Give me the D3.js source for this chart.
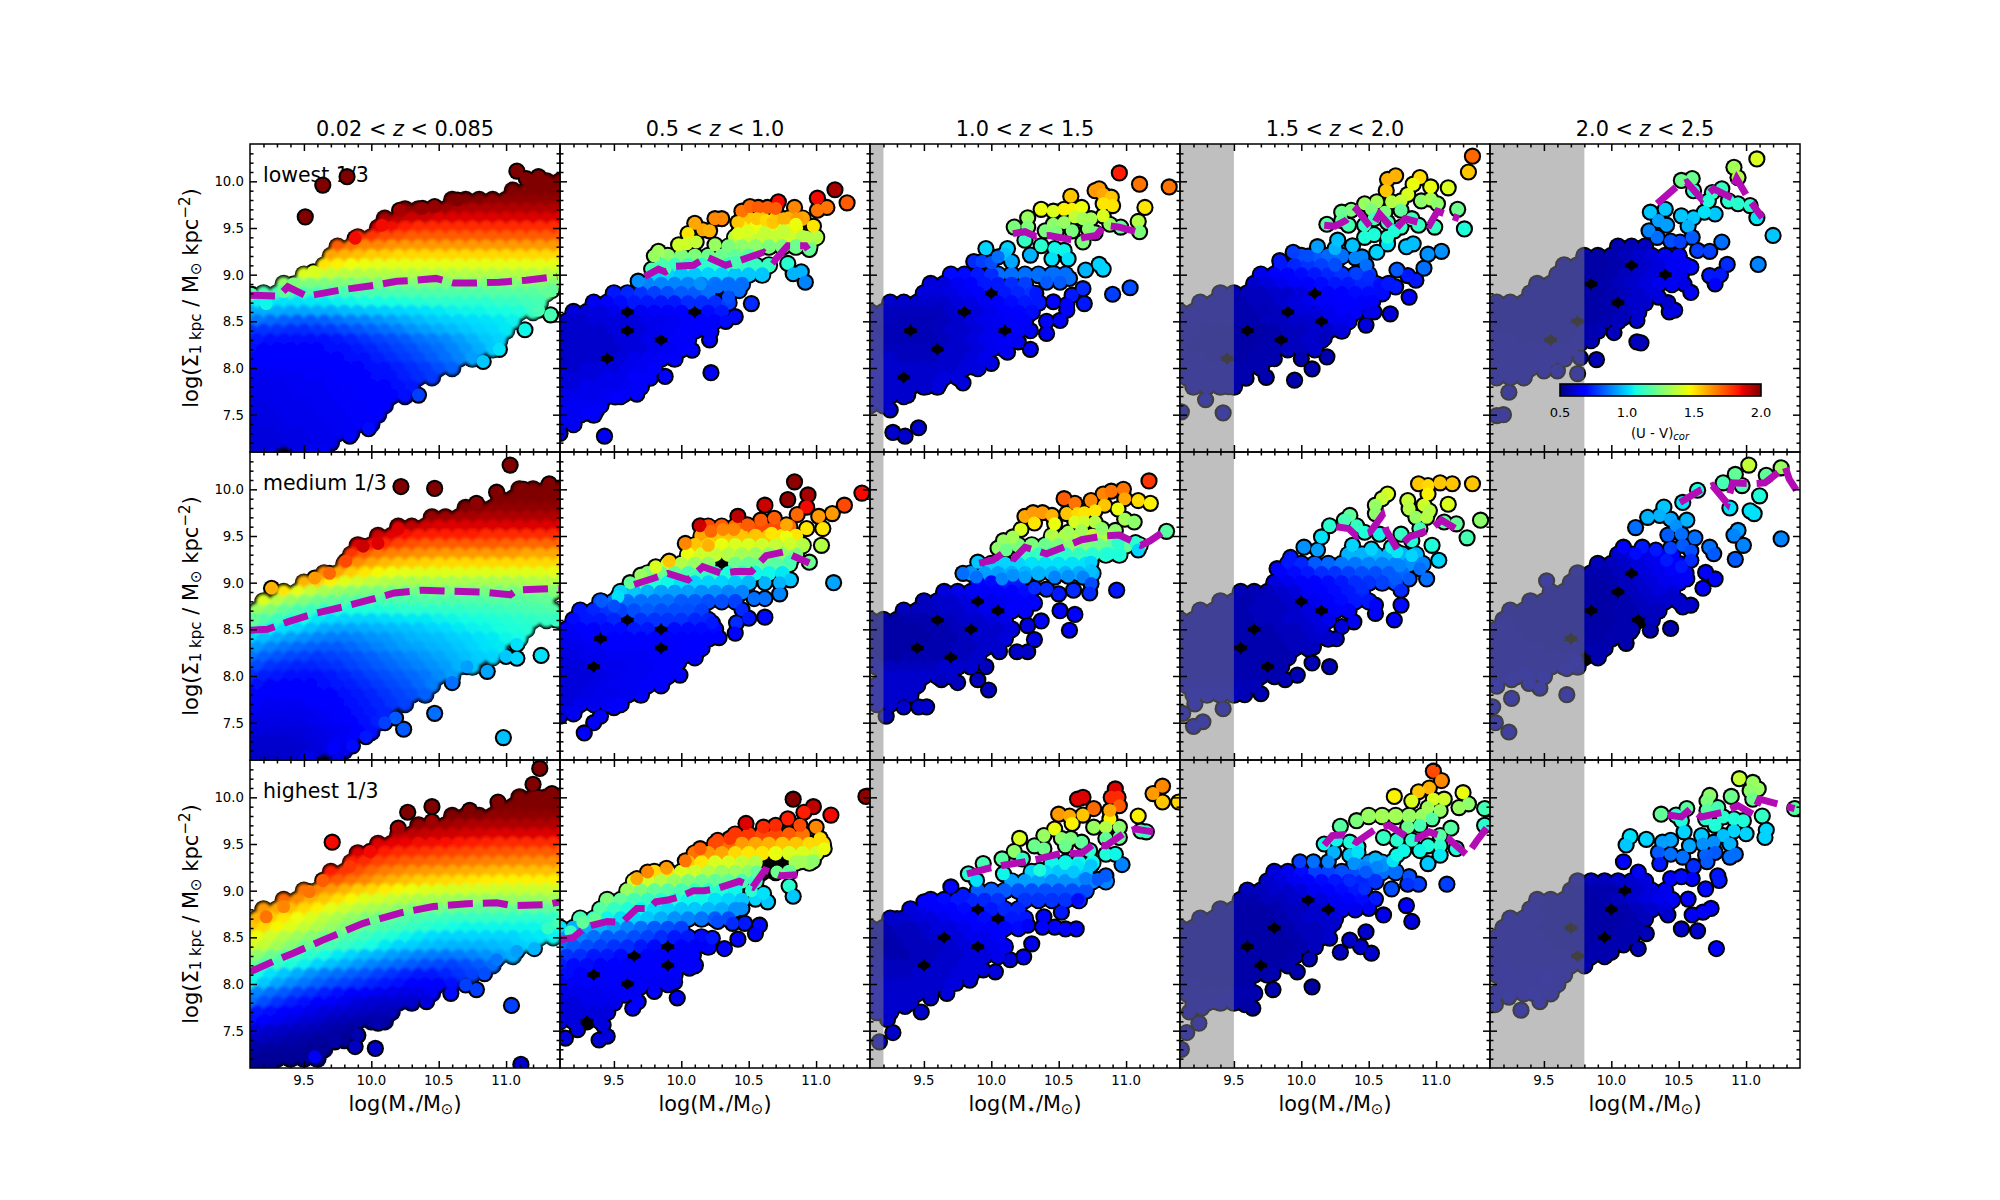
<!DOCTYPE html>
<html>
<head>
<meta charset="utf-8">
<script src="https://d3js.org/d3.v7.min.js"></script>
<style>
body { margin: 0; background: #fff; }
text { font-family: "DejaVu Sans", sans-serif; fill: #000; }
</style>
</head>
<body>
<div id="grafica"></div>
<script>
// Axis values
const xRange = [9.1, 11.4]
const yRange = [7.1, 10.4]
const xMajor = [9.5, 10, 10.5, 11]
const xMinor = [9.2, 9.3, 9.4, 9.6, 9.7, 9.8, 9.9, 10.1, 10.2, 10.3, 10.4, 10.6, 10.7, 10.8, 10.9, 11.1, 11.2, 11.3]
const yMajor = [7.5, 8, 8.5, 9, 9.5, 10]
const yMinor = [7.2, 7.3, 7.4, 7.6, 7.7, 7.8, 7.9, 8.1, 8.2, 8.3, 8.4, 8.6, 8.7, 8.8, 8.9, 9.1, 9.2, 9.3, 9.4, 9.6, 9.7, 9.8, 9.9, 10.1, 10.2, 10.3]
const zBins = [["0.02", "0.085"], ["0.5", "1.0"], ["1.0", "1.5"], ["1.5", "2.0"], ["2.0", "2.5"]]
const massBins = ["lowest 1/3", "medium 1/3", "highest 1/3"]
const massLimit = [null, null, 9.2, 9.5, 9.8]   // grey band ends here, per redshift bin
const barTicks = [0.5, 1, 1.5, 2]

// rowsRC: dense part of a panel, [y, first x, (U-V) every 0.1 in x ...], 0 = only black edges show there
// dotsRC: single galaxies, [x, y, (U-V)]
// trendRC: the magenta dashed line, [x, y]
const rows00 = [
[10.0,11.2,2,2,2],
[9.9,11.05,2,2,2,2],
[9.8,10.6,2,2,2,1.98,1.98,1.98,1.98,1.98,1.98],
[9.7,10.25,1.98,1.98,1.96,1.96,1.94,1.94,1.94,1.94,1.94,1.94,1.94,1.94,1.94],
[9.6,10.1,1.95,1.92,1.9,1.9,1.88,1.88,1.88,1.88,1.88,1.88,1.88,1.88,1.88,1.88],
[9.5,10.05,1.88,1.85,1.82,1.8,1.8,1.8,1.8,1.8,1.8,1.8,1.8,1.8,1.8,1.8,1.8],
[9.4,9.9,1.8,1.78,1.75,1.74,1.72,1.72,1.72,1.72,1.72,1.72,1.72,1.72,1.72,1.72,1.72,1.72],
[9.3,9.75,1.72,1.68,1.65,1.65,1.63,1.62,1.62,1.62,1.62,1.62,1.62,1.62,1.62,1.62,1.62,1.62,1.62,1.62],
[9.2,9.7,1.6,1.58,1.56,1.54,1.54,1.52,1.52,1.52,1.52,1.52,1.52,1.52,1.52,1.52,1.52,1.52,1.52,1.52],
[9.1,9.65,1.5,1.48,1.46,1.45,1.44,1.44,1.44,1.44,1.44,1.44,1.44,1.44,1.44,1.44,1.44,1.44,1.44,1.44,1.44],
[9.0,9.5,1.42,1.4,1.38,1.36,1.35,1.35,1.35,1.35,1.35,1.35,1.35,1.35,1.35,1.35,1.35,1.35,1.35,1.35,1.35,1.35],
[8.9,9.35,1.28,1.26,1.25,1.25,1.25,1.25,1.25,1.25,1.25,1.25,1.25,1.25,1.25,1.25,1.25,1.25,1.25,1.26,1.26,1.26,1.27,1.27],
[8.8,9.2,1.16,1.15,1.15,1.15,1.15,1.15,1.15,1.15,1.16,1.16,1.16,1.17,1.17,1.17,1.17,1.17,1.17,1.18,1.18,1.18,1.18,1.2],
[8.7,9.05,1.04,1.04,1.03,1.02,1.02,1.03,1.03,1.04,1.05,1.06,1.06,1.07,1.08,1.09,1.1,1.1,1.1,1.1,1.1,1.12,1.12,1.14,1.15],
[8.6,9.1,.94,.94,.94,.93,.93,.94,.94,.96,.97,.98,.99,1,1.01,1.02,1.03,1.04,1.05,1.05,1.06,1.07,1.08,1.12],
[8.5,9.05,.86,.86,.84,.83,.82,.82,.83,.85,.87,.88,.9,.92,.94,.96,.98,.99,1,1.01,1.02,1.03,1.04],
[8.4,9.1,.76,.76,.76,.75,.75,.76,.77,.79,.81,.83,.85,.87,.9,.92,.94,.96,.98,1,1.01,1.03],
[8.3,9.05,.72,.72,.71,.7,.7,.7,.71,.72,.74,.76,.78,.8,.82,.85,.87,.89,.92,.95,.98,1],
[8.2,9.1,.7,.69,.69,.68,.68,.69,.7,.71,.72,.74,.76,.78,.8,.83,.85,.88,.91,.94,.98],
[8.1,9.05,.68,.68,.68,.67,.67,.67,.68,.69,.7,.71,.73,.75,.77,.79,.82,.85,.88,.92],
[8.0,9.1,.67,.66,.66,.66,.66,.66,.67,.68,.69,.7,.71,.73,.75,.77,.8,.83],
[7.9,9.05,.65,.65,.65,.65,.65,.66,.66,.67,.68,.69,.7,.71,.73,.75,.77],
[7.8,9.1,.64,.64,.64,.65,.65,.65,.66,.66,.67,.68,.69,.7,.72],
[7.7,9.05,.64,.64,.64,.64,.65,.65,.65,.66,.66,.67,.68,.69,.7],
[7.6,9.1,.63,.63,.64,.64,.64,.65,.65,.66,.66,.67,.68],
[7.5,9.05,.63,.63,.63,.64,.64,.64,.65,.65,.66,.66,.67],
[7.4,9.1,.62,.63,.63,.64,.64,.64,.65,.65,.66,.66],
[7.3,9.05,.62,.62,.62,.63,.63,.64,.64,.65,.65],
[7.2,9.1,.62,.62,.62,.63,.63,.64,.64],
[7.1,9.05,.61,.61,.62,0,.63,.64,.65]
]
const dots00 = [[9.51,9.62,2],[9.64,9.96,2],[9.82,10.05,2],[11.08,10.11,2],[11.24,10.05,2],[11.15,10.03,2],[9.11,8.79,1.18],[9.22,8.69,1.05],[9.35,8.82,1.2],[9.42,8.9,1.25],[10.95,8.2,1.02],[10.83,8.07,.98],[11.14,8.41,1.05],[11.33,8.57,1.15],[11.24,8.62,1.15],[11.34,8.83,1.2],[9.98,7.35,.7],[10.35,7.71,.78],[9.88,9.39,1.85],[10.08,9.53,1.85],[10.21,9.69,1.95],[10.38,9.71,1.97],[10.47,9.73,1.97],[10.64,9.8,2],[9.57,9.03,1.42],[9.84,7.27,.66],[9.57,7.13,.65]]
const trend00 = [[9.1,8.78],[9.31,8.77],[9.38,8.87],[9.52,8.77],[9.79,8.84],[10.04,8.89],[10.19,8.93],[10.33,8.94],[10.48,8.96],[10.61,8.91],[10.77,8.91],[10.95,8.92],[11.15,8.94],[11.38,8.98]]

const rows10 = [
[10.0,11.1,2,2,2,2],
[9.9,10.95,2,2,2,2,2,2],
[9.8,10.7,2,2,1.98,1.98,1.98,1.98,1.98,1.98],
[9.7,10.45,1.97,1.96,1.95,1.95,1.94,1.94,1.94,1.94,1.94,1.94],
[9.6,10.2,1.95,1.92,1.9,1.88,1.88,1.88,1.88,1.88,1.88,1.88,1.88,1.88,1.88],
[9.5,10.05,1.9,1.87,1.84,1.82,1.82,1.82,1.82,1.82,1.8,1.8,1.8,1.8,1.8,1.8,1.8],
[9.4,9.9,1.88,1.84,1.8,1.76,1.74,1.72,1.72,1.72,1.72,1.72,1.72,1.71,1.7,1.7,1.7,1.7],
[9.3,9.85,1.78,1.72,1.68,1.66,1.65,1.64,1.63,1.62,1.62,1.62,1.62,1.62,1.62,1.6,1.6,1.6,1.6],
[9.2,9.8,1.7,1.64,1.6,1.57,1.55,1.54,1.53,1.52,1.52,1.52,1.52,1.52,1.52,1.52,1.52,1.52,1.52],
[9.1,9.65,1.65,1.6,1.54,1.5,1.47,1.45,1.44,1.43,1.43,1.43,1.43,1.43,1.43,1.43,1.43,1.43,1.43,1.44,1.44],
[9.0,9.5,1.58,1.54,1.48,1.43,1.4,1.37,1.35,1.33,1.33,1.33,1.33,1.33,1.33,1.33,1.33,1.33,1.33,1.34,1.35,1.35],
[8.9,9.35,1.5,1.44,1.38,1.33,1.3,1.27,1.25,1.24,1.24,1.23,1.23,1.24,1.24,1.24,1.24,1.24,1.24,1.24,1.25,1.25,1.26,1.26],
[8.8,9.2,1.42,1.36,1.3,1.26,1.22,1.2,1.18,1.17,1.16,1.16,1.16,1.16,1.17,1.17,1.17,1.17,1.17,1.18,1.18,1.18,1.19,1.2],
[8.7,9.05,1.3,1.3,1.26,1.2,1.16,1.13,1.1,1.09,1.08,1.08,1.08,1.09,1.1,1.1,1.1,1.11,1.11,1.12,1.12,1.13,1.14,1.15,1.16,1.17],
[8.6,9.1,1.2,1.17,1.13,1.09,1.06,1.03,1.01,1,1,1,1.01,1.02,1.03,1.03,1.04,1.05,1.06,1.07,1.08,1.09,1.1,1.11,1.12,1.14],
[8.5,9.05,1.08,1.08,1.05,1.02,1,.97,.94,.93,.93,.94,.95,.96,.97,.98,1,1.01,1.03,1.04,1.05,1.07,1.08,1.09],
[8.4,9.1,1,.97,.94,.92,.9,.88,.87,.87,.88,.9,.91,.93,.95,.96,.97,.99,1,1.02,1.03,1.05,1.06],
[8.3,9.05,.91,.91,.88,.86,.84,.83,.82,.82,.84,.86,.88,.9,.92,.93,.95,.96,.98,1,1.02,1.03],
[8.2,9.1,.86,.83,.81,.79,.78,.77,.78,.79,.81,.83,.85,.87,.89,.91,.93,.95,.97,.99,1],
[8.1,9.05,.79,.79,.76,.75,.74,.74,.75,.76,.78,.8,.82,.84,.86,.88,.9,.92,.95,.98],
[8.0,9.1,.75,.73,.72,.71,.71,.71,.72,.74,.76,.78,.8,.82,.84,.86,.89,.92],
[7.9,9.05,.7,.7,.69,.68,.69,.69,.7,.72,.73,.75,.77,.79,.81,.84,.87],
[7.8,9.1,.68,.67,.67,.67,.67,.68,.69,.7,.72,.74,.76,.78,.8,.83],
[7.7,9.05,.66,.66,.65,.65,.65,.66,.67,.68,.7,.72,.74,.76,.78],
[7.6,9.1,.65,.64,.64,.64,.64,.65,.66,.68,.7,.72,.74],
[7.5,9.05,.63,.63,.63,.63,.63,.64,.65,.66,.68,.7,.73],
[7.4,9.1,.62,.62,.62,.62,.62,.63,.64,.65,.67,.7],
[7.3,9.05,.6,.6,.6,.6,.61,.62,.63,.65,.67],
[7.2,9.1,.6,.6,.6,.6,.6,.62,.63,.64],
[7.1,9.05,.59,.59,.59,.6,.6,.62,0,.63]
]
const dots10 = [[10.22,10.03,2],[10.47,10.01,2],[11.03,10.26,2],[11.32,10.06,2],[11.13,10.0,2],[10.93,9.97,2],[10.78,9.85,1.98],[10.2,9.58,1.88],[9.26,8.94,1.58],[9.94,9.39,1.9],[10.05,9.42,1.88],[9.81,9.23,1.75],[9.69,9.1,1.7],[9.58,9.05,1.62],[9.13,8.6,1.2],[10.47,7.6,.85],[10.98,7.34,.97],[11.26,8.22,1.02],[10.24,7.43,.82],[10.18,7.55,.82],[10.1,7.5,.78],[9.86,7.25,.7],[9.72,7.23,.68],[9.96,7.35,.72],[10.6,7.93,.85],[10.86,8.05,.93],[10.71,8.1,.92],[11.0,8.21,.98],[11.08,8.19,1],[11.08,8.34,1.02],[11.37,8.6,1.12],[9.52,7.14,.64]]
const trend10 = [[9.1,8.49],[9.23,8.5],[9.38,8.58],[9.58,8.67],[9.79,8.74],[10,8.82],[10.17,8.89],[10.38,8.92],[10.57,8.91],[10.81,8.9],[11.03,8.87],[11.08,8.92],[11.39,8.94]]

const rows20 = [
[10.0,11.1,2,2,2,2,2],
[9.9,10.95,2,2,2,2,2,2],
[9.8,10.6,2,2,2,1.98,1.98,1.98,1.98,1.98,1.98],
[9.7,10.35,1.98,1.97,1.96,1.95,1.94,1.94,1.94,1.94,1.94,1.94,1.94,1.94],
[9.6,10.2,1.92,1.92,1.91,1.9,1.9,1.89,1.89,1.88,1.88,1.88,1.88,1.88,1.88,1.88],
[9.5,10.05,1.88,1.87,1.86,1.85,1.85,1.84,1.83,1.82,1.81,1.8,1.8,1.8,1.8,1.8,1.8],
[9.4,9.9,1.88,1.86,1.82,1.8,1.79,1.78,1.77,1.76,1.75,1.74,1.73,1.73,1.72,1.72,1.72,1.72],
[9.3,9.85,1.82,1.8,1.76,1.74,1.72,1.71,1.7,1.69,1.68,1.67,1.66,1.65,1.65,1.64,1.64,1.64,1.64],
[9.2,9.7,1.82,1.78,1.74,1.7,1.67,1.65,1.63,1.62,1.61,1.6,1.59,1.58,1.57,1.56,1.56,1.56,1.56,1.56],
[9.1,9.65,1.76,1.72,1.68,1.65,1.61,1.58,1.56,1.54,1.53,1.52,1.51,1.5,1.49,1.48,1.48,1.48,1.48,1.48,1.48],
[9.0,9.5,1.68,1.65,1.62,1.58,1.54,1.52,1.49,1.47,1.45,1.43,1.42,1.41,1.41,1.4,1.4,1.39,1.39,1.39,1.39,1.39],
[8.9,9.35,1.7,1.64,1.58,1.55,1.51,1.47,1.43,1.41,1.38,1.36,1.34,1.33,1.32,1.31,1.3,1.3,1.3,1.3,1.3,1.3,1.31,1.31,1.32],
[8.8,9.2,1.62,1.6,1.56,1.52,1.48,1.44,1.4,1.36,1.33,1.31,1.28,1.26,1.25,1.24,1.22,1.21,1.2,1.2,1.2,1.2,1.2,1.2,1.2],
[8.7,9.05,1.58,1.58,1.54,1.5,1.46,1.42,1.37,1.33,1.29,1.26,1.23,1.2,1.18,1.16,1.14,1.13,1.12,1.12,1.12,1.12,1.11,1.1,1.1,1.11],
[8.6,9.1,1.55,1.52,1.47,1.43,1.38,1.34,1.3,1.26,1.22,1.19,1.16,1.14,1.12,1.1,1.08,1.06,1.05,1.05,1.05,1.05,1.05,1.05,1.05,1.06],
[8.5,9.05,1.45,1.45,1.4,1.35,1.31,1.27,1.23,1.19,1.16,1.13,1.1,1.08,1.05,1.03,1.01,1,1,1,1,1,1,1.02,1.03,1.04],
[8.4,9.1,1.42,1.38,1.32,1.27,1.22,1.18,1.15,1.12,1.09,1.06,1.03,1,.99,.97,.96,.95,.95,.95,.96,.97,.99,1],
[8.3,9.05,1.28,1.28,1.22,1.18,1.13,1.1,1.06,1.03,1,.97,.95,.92,.9,.88,.87,.86,.87,.88,.9,.92,.94],
[8.2,9.1,1.22,1.16,1.12,1.08,1.04,1,.97,.94,.91,.88,.86,.84,.82,.8,.79,.78,.8,.82,.84],
[8.1,9.05,1.06,1.06,1.02,.98,.94,.9,.87,.85,.83,.81,.78,.76,.74,.72,.72,.74,.76,.78],
[8.0,9.1,1.05,.98,.93,.89,.86,.83,.8,.78,.76,.74,.72,.7,.68,.67,.68,.7],
[7.9,9.05,.88,.88,.85,.82,.78,.76,.73,.71,.69,.67,.65,.64,.63,.63,.65],
[7.8,9.1,.85,.8,.76,.73,.7,.68,.66,.64,.62,.61,.6,.6,.6],
[7.7,9.05,.72,.72,.7,.68,.66,.64,.62,.61,.6,.59,.58,.58],
[7.6,9.1,.7,.67,.65,.63,.61,.6,.58,.57,.56,.55,.55],
[7.5,9.05,.62,.62,.6,.59,.58,.57,.56,.55,.54],
[7.4,9.1,.58,.58,.57,.56,.55,.54,.54,.53],
[7.3,9.05,.55,.55,.54,.54,.54,.53,.53],
[7.2,9.1,.53,.53,.53,.53,.53,.53],
[7.1,9.05,.52,.52,.52]
]
const dots20 = [[9.22,8.72,1.68],[9.71,9.52,1.85],[10.27,9.84,2],[10.45,9.9,2],[11.2,10.14,2],[11.25,10.31,2],[11.34,10.04,2],[11.24,10.0,2],[10.94,9.95,2],[10.73,9.86,2],[10.2,9.67,1.95],[10.45,9.74,1.96],[9.99,9.42,1.85],[9.84,9.26,1.78],[9.64,9.11,1.72],[9.54,8.99,1.68],[9.35,8.83,1.65],[9.58,7.22,.65],[9.73,7.38,.55],[9.88,7.33,.58],[10.03,7.31,.6],[9.9,7.45,.56],[10.05,7.58,.56],[10.41,7.81,.62],[10.59,7.9,.7],[10.7,7.99,.78],[10.78,7.94,.78],[10.84,8.11,.8],[10.93,8.26,.86],[11.08,8.35,.92],[11.21,8.38,.95],[11.31,8.6,1.12],[11.39,8.65,1.15],[11.04,7.77,.78],[11.11,7.14,.6]]
const trend20 = [[9.1,8.13],[9.3,8.26],[9.42,8.33],[9.64,8.47],[9.94,8.65],[10.21,8.76],[10.46,8.83],[10.71,8.86],[10.93,8.87],[11.05,8.84],[11.3,8.85],[11.4,8.88]]

const rows01 = [
[9.6,10.5,1.55,1.55,1.55,1.58,1.6],
[9.5,10.45,1.48,1.45,1.42,1.45,1.48],
[9.4,10.4,1.35,1.38,1.38,1.38,1.4,1.35,1.35],
[9.3,10.35,1.25,1.28,1.28,1.25,1.25,1.22,1.28],
[9.2,9.9,1.28,1.25,1.25,1.22,1.22,1.2,1.18],
[9.1,9.85,1.15,1.12,1.12,1.1,1.1,1.1,1.12,1.12,1.12],
[9.0,9.8,1,1,.98,.98,1,1,.98,.98,.98],
[8.9,9.75,.88,.88,.88,.88,.86,.86,.85,.85],
[8.8,9.5,.72,.74,.76,.78,.8,.82,.82,.85],
[8.7,9.35,.65,.68,.7,.72,.72,.72,.72,.75,.75,.75,.78],
[8.6,9.2,.62,.62,.62,.64,0,.65,.66,.66,.68,0,.7,.72],
[8.5,9.15,.6,.6,.62,.62,.62,.62,.64,.64,.65,.66,.66,.68],
[8.4,9.1,.6,.6,.6,.6,.62,0,.62,.64,.65,.66,.66,.67],
[8.3,9.15,.6,.6,.6,.6,.62,.62,.64,0,.66,.66],
[8.2,9.1,.6,.6,.6,.6,.6,.62,.62,.64,.65,.66],
[8.1,9.15,.6,.6,.6,0,.62,.64,.65,.66,.66],
[8.0,9.1,.6,.6,.62,.62,.62,.64,.65,.66],
[7.9,9.15,.62,.62,.62,.64,.64,.66,.66],
[7.8,9.1,.62,.62,.64,.64,.64,.65,.66],
[7.7,9.15,.64,.64,.64,.65,.65],
[7.6,9.1,.64,.65,.65,.65],
[7.5,9.15,.65,.65,.65],
[7.4,9.1,.65,.65]
]
const dots01 = [[11.14,9.91,1.95],[11.01,9.82,1.85],[11.23,9.77,1.72],[11.01,9.69,1.68],[11.08,9.72,1.68],[10.72,9.78,1.85],[10.84,9.72,1.65],[10.98,9.52,1.5],[10.93,9.4,1.35],[10.95,9.27,1.2],[10.45,9.68,1.68],[10.51,9.73,1.7],[10.57,9.72,1.72],[10.64,9.72,1.72],[10.7,9.71,1.72],[10.42,9.56,1.55],[10.56,9.6,1.55],[10.63,9.58,1.52],[10.68,9.56,1.55],[10.76,9.6,1.58],[10.86,9.6,1.62],[10.42,9.44,1.42],[10.49,9.46,1.42],[10.62,9.45,1.38],[10.76,9.47,1.38],[10.85,9.54,1.45],[10.1,9.55,1.6],[10.16,9.48,1.6],[10.25,9.6,1.65],[10.3,9.6,1.65],[10.21,9.47,1.58],[10.05,9.44,1.5],[9.98,9.32,1.4],[10.04,9.33,1.4],[10.11,9.35,1.38],[9.83,9.25,1.32],[9.8,9.2,1.3],[10.25,9.32,1.3],[9.88,9.06,1.15],[9.78,9.06,1.15],[10.4,9.13,1.15],[10.79,9.12,1.1],[10.83,9.01,.95],[10.89,9.03,.95],[10.92,8.92,.88],[9.68,8.93,.9],[10.14,8.9,.9],[10.27,8.87,.85],[10.35,8.87,.85],[10.43,8.83,.85],[10.52,8.69,.75],[10.35,8.76,.8],[10.22,7.95,.65],[9.43,7.27,.65],[10.21,8.3,.68],[10.22,8.39,.68],[10.08,8.19,.68],[10.4,8.55,.7],[10.33,8.5,.7],[9.88,7.91,.66],[9.77,7.89,.66],[9.67,7.72,.66],[9.58,7.72,.66],[9.51,7.69,.66],[9.37,7.54,.66],[9.3,7.52,.66],[9.1,7.3,.62]]
const trend01 = [[9.73,8.98],[9.83,9.06],[9.88,9.03],[9.96,9.09],[10.09,9.1],[10.19,9.19],[10.33,9.1],[10.43,9.15],[10.61,9.24],[10.69,9.15],[10.79,9.31],[10.92,9.31],[10.94,9.27]]

const rows02 = [
[9.0,10.05,.85,.85,.85,.85,.85,.85],
[9.0,9.7,.7,.7,.72,.75],
[8.9,9.55,.62,.62,.65,.68,.72,.72,.75,.78],
[8.8,9.5,.62,.62,.63,.65,.68,0,.72,.74,.76],
[8.7,9.25,.6,.6,.6,.6,.6,.62,.63,.65,.67,.7,.72,.72],
[8.6,9.1,.58,.58,.58,.58,.58,.58,.6,0,.62,.64,.66,.68,.7],
[8.5,9.15,.58,.58,.57,.57,.57,.58,.6,.62,.64,.65,.66,.68],
[8.4,9.1,.58,.57,.57,0,.57,.58,.6,.6,.62,.64,0,.68],
[8.3,9.15,.58,.57,.57,.57,.57,.58,.6,.62,.64,.65,.66],
[8.2,9.1,.58,.58,.58,.58,.58,0,.6,.6,.62,.64,.65],
[8.1,9.15,.6,.6,.58,.58,.58,.6,.6,.62,.64],
[8.0,9.1,.6,.6,.6,.6,.6,.6,.6,.62,.63],
[7.9,9.15,.6,.6,0,.6,.6,.62,.62],
[7.8,9.1,.6,.6,.6,.6,.6,.62],
[7.7,9.15,.6,.6,.6],
[7.6,9.1,.6,.6]
]
const dots02 = [[10.95,10.09,1.82],[11.1,9.97,1.68],[11.32,9.94,1.68],[11.14,9.72,1.5],[11.09,9.57,1.35],[11.1,9.46,1.25],[10.96,9.51,1.2],[10.88,9.54,1.3],[10.77,9.9,1.62],[10.8,9.92,1.62],[10.83,9.86,1.6],[10.89,9.83,1.55],[10.83,9.76,1.5],[10.9,9.74,1.5],[10.59,9.84,1.55],[10.37,9.7,1.45],[10.46,9.68,1.42],[10.54,9.7,1.48],[10.6,9.7,1.48],[10.67,9.72,1.45],[10.62,9.62,1.38],[10.68,9.6,1.32],[10.74,9.6,1.32],[10.83,9.63,1.42],[10.27,9.61,1.3],[10.17,9.51,1.25],[10.27,9.51,1.25],[10.4,9.47,1.25],[10.46,9.54,1.28],[10.54,9.56,1.3],[10.48,9.46,1.25],[10.6,9.47,1.25],[10.72,9.49,1.28],[10.77,9.45,1.25],[10.68,9.35,1.25],[10.25,9.37,1.12],[10.37,9.31,1.1],[10.47,9.28,1.05],[10.54,9.26,1.05],[10.45,9.17,1.02],[10.57,9.17,1.02],[9.96,9.28,1],[10.12,9.28,1],[10.1,9.22,.97],[10.29,9.21,.95],[10.15,9.14,.93],[10.7,9.05,.95],[10.8,9.11,1],[10.83,9.06,1],[9.87,9.14,.75],[9.93,9.14,.78],[10,9.13,.8],[10.05,9.19,.85],[10.35,8.99,.85],[10.47,9.01,.85],[10.58,8.96,.85],[10.41,8.92,.82],[10.51,8.92,.82],[10.68,8.85,.75],[10.6,8.78,.72],[10.69,8.69,.72],[10.46,8.71,.68],[10.56,8.68,.68],[10.56,8.62,.68],[10.51,8.51,.68],[10.33,8.8,.72],[10.41,8.5,.68],[10.29,8.4,.65],[10.41,8.37,.65],[10.29,8.2,.65],[10.2,8.28,.65],[10.12,8.17,.65],[10,8.05,.63],[9.87,8.01,.62],[9.79,7.84,.62],[9.62,7.84,.62],[9.52,7.8,.6],[9.38,7.71,.6],[9.27,7.31,.6],[9.36,7.27,.6],[9.46,7.36,.6],[11.03,8.86,.8],[10.9,8.79,.78],[9.25,7.55,.6]]
const trend02 = [[10.16,9.44],[10.25,9.46],[10.33,9.41],[10.43,9.42],[10.61,9.37],[10.69,9.4],[10.78,9.42],[10.84,9.53],[10.95,9.51],[11.1,9.45]]

const rows03 = [
[9.2,10,.8,.82,.84,.85],
[9.1,9.85,.72,.74,.76,.78,.8],
[9.0,9.7,.64,.66,.68,.7,.72,.74,.76,.76,.78],
[8.9,9.65,.6,.62,.64,.66,.68,.7,.72,.72,.74,.74,.72],
[8.8,9.4,.56,.56,.58,.58,.6,.6,.62,0,.66,.68,.7,.7,.7],
[8.7,9.25,.56,.56,.56,.56,.58,.58,.6,.62,.64,.66,.66,.68,.66],
[8.6,9.1,.56,.56,.56,.56,.56,.56,.57,.58,0,.62,.62,.64,.66,.66],
[8.5,9.15,.56,.56,.56,.56,.56,.56,.58,.58,.6,.6,0,.64,.64],
[8.4,9.1,.56,.56,.55,.55,.55,0,.55,.56,.58,.58,.6,.6,.62],
[8.3,9.15,.56,.55,.55,.55,.55,.55,.56,0,.58,.6,.6],
[8.2,9.1,.56,.55,.55,.55,.55,.55,.56,.56,.58,.58,.6],
[8.1,9.15,.56,.56,.55,0,.55,.56,.56],
[8.0,9.1,.56,.56,.56,.56,.56,.56,.56],
[7.9,9.15,.56,.56,.56,.56,.56],
[7.8,9.2,.56,.56,.56,.56]
]
const dots03 = [[10.58,8.89,.7],[10.7,8.87,.72],[10.85,8.94,.72],[10.79,8.99,.72],[10.71,9.05,.82],[10.91,9.07,.85],[10.94,9.22,.9],[11.04,9.25,.9],[10.83,9.33,.97],[10.78,9.3,.97],[10.56,9.24,1],[10.64,9.33,1.02],[10.38,9.31,.97],[10.25,9.28,.95],[10.12,9.3,.92],[10.27,9.37,.97],[11.21,9.49,1.08],[11.16,9.7,1.22],[11.09,9.93,1.42],[11.24,10.1,1.55],[11.27,10.27,1.7],[10.96,9.94,1.45],[10.88,10.04,1.52],[10.83,9.97,1.45],[10.7,10.06,1.58],[10.64,10.02,1.58],[10.63,9.9,1.55],[10.79,9.86,1.42],[10.74,9.79,1.38],[10.67,9.78,1.35],[10.89,9.79,1.28],[10.96,9.81,1.32],[11.01,9.76,1.28],[10.56,9.78,1.32],[10.47,9.76,1.3],[10.37,9.69,1.25],[10.3,9.67,1.22],[10.52,9.7,1.25],[10.62,9.67,1.25],[10.74,9.69,1.2],[10.19,9.54,1.18],[10.3,9.58,1.2],[10.35,9.53,1.15],[10.54,9.6,1.15],[10.64,9.56,1.15],[10.82,9.6,1.13],[10.87,9.53,1.12],[10.99,9.51,1.12],[10.47,9.53,1.12],[10.74,9.51,1.12],[10.47,9.4,1.08],[10.54,9.43,1.08],[10.64,9.4,1.08],[10.69,9.47,1.08],[10.45,9.19,.88],[10.48,9.1,.85],[10.4,9.18,.88],[10.05,9.2,.8],[9.94,9.24,.78],[9.84,9.15,.72],[10.25,9.1,.8],[10.41,9.01,.78],[10.5,8.98,.75],[10.64,8.9,.72],[10.8,8.76,.66],[10.66,8.58,.62],[10.48,8.46,.62],[10.53,8.71,.66],[10.5,8.6,.64],[10.54,8.6,.64],[10.17,8.32,.58],[10.19,8.12,.56],[10.08,7.99,.56],[10,8.1,.56],[9.95,7.87,.56],[9.8,8.1,.56],[9.74,7.9,.56],[9.59,7.89,.56],[9.46,7.8,.56],[9.42,7.52,.58],[9.29,7.66,.58],[9.11,7.53,.58]]
const trend03 = [[10.17,9.53],[10.25,9.52],[10.33,9.58],[10.41,9.7],[10.52,9.5],[10.58,9.65],[10.69,9.47],[10.77,9.6],[10.95,9.53],[11.01,9.68],[11.17,9.6]]

const rows04 = [
[9.3,10.05,.56,.57,.58],
[9.2,9.8,.55,.55,.56,.58,.6,.62,.64,.66],
[9.1,9.65,.55,.55,.55,.55,.56,0,.6,.62,.65,.66],
[9.0,9.6,.55,.55,.55,.55,.56,.58,.6,.62,0,.65],
[8.9,9.45,.55,.55,.55,.55,0,.56,.58,.6,.62,.64,.65],
[8.8,9.4,.55,.55,.55,.55,.55,.55,.56,.58,.6,.62],
[8.7,9.15,.55,.55,.55,.55,.55,.55,.55,.55,.56,0,.6,.6],
[8.6,9.1,.55,.55,.55,.55,.55,.55,.55,.55,.55,.56,.58,.6],
[8.5,9.15,.55,.55,.55,.55,.55,.55,0,.55,.56,.58],
[8.4,9.1,.55,.55,.55,.55,.55,.55,.55,.56,.57],
[8.3,9.15,.56,.56,.55,.55,0,.55,.56,.57],
[8.2,9.1,.56,.56,.56,.56,.56,.56,.56],
[8.1,9.15,.56,.56,.56,.56,.56,.56],
[8.0,9.1,.56,.56,.56,.56,.56],
[7.9,9.15,.56,.56,.56]
]
const dots04 = [[11.08,10.24,1.42],[10.91,10.15,1.32],[10.94,10.04,1.35],[11.2,9.42,.98],[11.09,9.11,.88],[10.82,9.35,.85],[10.73,9.25,.78],[10.64,9.26,.78],[10.86,9.11,.75],[10.73,8.99,.72],[10.81,9,.72],[10.77,8.9,.68],[10.59,9.08,.7],[10.59,8.81,.66],[10.43,8.6,.63],[10.47,8.62,.63],[10.19,8.28,.58],[10.22,8.27,.58],[9.89,8.09,.57],[10.02,8.38,.58],[10.19,8.51,.6],[9.75,7.94,.57],[9.77,8.11,.57],[9.6,7.97,.57],[9.5,7.97,.57],[9.24,7.74,.57],[9.15,7.49,.57],[9.2,7.5,.57],[10.52,10.01,1.22],[10.6,10.03,1.22],[10.61,9.9,1.1],[10.75,9.88,1.12],[10.82,9.92,1.12],[10.72,9.79,1.08],[10.87,9.79,1.1],[10.94,9.76,1.1],[11.03,9.74,1.1],[11.08,9.61,1.03],[10.77,9.65,.98],[10.69,9.67,1.02],[10.61,9.61,.98],[10.52,9.63,.98],[10.57,9.52,.95],[10.4,9.7,.98],[10.29,9.67,.98],[10.35,9.58,.92],[10.41,9.53,.92],[10.28,9.47,.88],[10.34,9.4,.85],[10.44,9.36,.8],[10.51,9.35,.78],[10.6,9.4,.82],[10.35,8.76,.62],[10.42,8.7,.6],[10.54,8.9,.63],[10.52,9.0,.64],[10.54,9.1,.66],[10.09,8.54,.57],[9.85,8.36,.56],[9.77,8.26,.56]]
const trend04 = [[10.34,9.76],[10.49,9.95],[10.56,9.99],[10.67,9.81],[10.76,9.92],[10.87,9.84],[10.93,10.03],[11.01,9.83],[11.12,9.61]]

const rows11 = [
[9.6,10.2,1.75,1.72,1.7,1.72,1.75,1.75,1.7],
[9.5,10.15,1.6,1.55,1.55,1.55,1.55,1.55,1.5,1.5],
[9.4,10.1,1.55,1.5,1.45,1.42,1.42,1.4,1.38,1.35,1.35],
[9.3,10.05,1.45,1.4,1.38,1.35,1.32,1.3,1.28,1.28,1.25],
[9.2,9.9,1.4,1.35,1.3,1.28,0,1.22,1.2,1.2,1.18,1.18],
[9.1,9.75,1.25,1.22,1.2,1.15,1.12,1.1,1.08,1.06,1.05,1.05,1.03],
[9.0,9.7,1.15,1.08,1.05,1.02,1,1,1,.98,.96],
[8.9,9.55,1,.98,.95,.92,.92,.92,.9,.9,.88,.88],
[8.8,9.4,.8,.85,.85,.85,.85,.85,.82,.82,.8,.8,.78],
[8.7,9.25,.72,.74,.76,.78,.8,.82,.8,.8,.8,.78],
[8.6,9.2,.7,.72,.72,.74,0,.76,.76,.76,.76,.74,.74],
[8.5,9.15,.66,.68,.68,.7,.7,.72,.72,0,.7,.7,.7,.7],
[8.4,9.1,.64,.65,.66,0,.68,.68,.68,.68,.68,.68,.68,.68],
[8.3,9.15,.64,.64,.65,.66,.66,.66,.66,0,.66,.67,.67],
[8.2,9.1,.62,.63,.64,.64,.65,.65,.65,.66,.66,.66,.66],
[8.1,9.15,.62,.62,0,.64,.64,.65,.65,.66,.66],
[8.0,9.1,.62,.62,.62,.63,.64,.65,.65,.66,.66],
[7.9,9.15,.62,.62,.63,.64,.65,.65,.66,.66],
[7.8,9.1,.62,.62,.63,.64,.64,.65,.66],
[7.7,9.15,.62,.64,.64,.65,.66],
[7.6,9.1,.64,.65]
]
const dots11 = [[10.84,10.08,1.98],[10.79,9.89,1.98],[10.94,9.94,1.95],[10.93,9.81,1.85],[10.62,9.83,1.9],[10.42,9.71,1.92],[10.14,9.61,1.9],[11.34,9.96,1.85],[11.21,9.83,1.75],[11.12,9.74,1.62],[11.02,9.71,1.62],[10.93,9.58,1.5],[11.05,9.58,1.5],[11.04,9.4,1.35],[10.95,9.22,1.22],[10.81,9.23,1.15],[11.13,9,.93],[10.81,9.03,.98],[10.73,9,.95],[10.73,8.88,.88],[10.62,9,.95],[10.62,8.83,.85],[10.54,8.83,.85],[10.45,8.71,.75],[10.5,8.62,.72],[10.62,8.63,.7],[10.41,8.57,.75],[10.28,8.41,.68],[10.4,8.46,.68],[10.23,8.57,.72],[10.22,9.55,1.7],[10.31,9.57,1.65],[10.39,9.57,1.65],[10.49,9.62,1.72],[10.59,9.67,1.72],[10.69,9.69,1.72],[10.78,9.62,1.6],[10.86,9.73,1.7],[10.03,9.42,1.65],[10.2,9.4,1.58],[10.67,9.53,1.5],[10.78,9.49,1.45],[10.81,9.42,1.4],[9.91,9.23,1.55],[9.81,9.17,1.42],[9.7,9.08,1.3],[9.62,9,1.2],[9.53,8.85,1.02],[9.41,8.8,.82],[9.5,8.75,.8],[9.28,7.39,.68],[9.4,7.57,.66],[9.5,7.66,.66],[9.35,7.5,.66],[9.7,7.82,.66],[9.91,8.03,.66],[9.99,8.01,.68],[9.98,8.14,.68],[10.15,8.32,.68],[9.1,7.57,.62]]
const trend11 = [[9.65,8.98],[9.8,9.05],[9.9,9.1],[10.05,9.03],[10.16,9.17],[10.3,9.1],[10.4,9.12],[10.52,9.12],[10.63,9.29],[10.76,9.33],[10.95,9.21]]

const rows12 = [
[9.5,10.45,1.35,1.35,1.35,1.38,1.35],
[9.4,10.1,1.28,1.25,1.25,1.22,1.25,1.28,1.25,1.22,1.2,1.2,1.2],
[9.3,10.25,1.12,1.12,1.1,1.1,1.12,1.1,1.1,1.08],
[9.2,10,1,1,1,1.02,1.02,1.02,1.02,1.02],
[9.1,9.85,.9,.92,.92,.94,.95,.95,.96,.95,.94,.95],
[9.0,9.9,.68,.7,.72,.72],
[8.9,9.65,.62,.64,.66,.66,.68,.68,.7],
[8.8,9.5,.58,.6,.6,.62,0,.64,.65,.66,.68],
[8.7,9.35,.58,.58,.58,.6,.6,.62,.64,0,.66,.66],
[8.6,9.1,.55,.55,.55,.56,.56,0,.58,.6,.6,.62,.64],
[8.5,9.15,.55,.55,.55,.55,.56,.56,.58,0,.6,.6,.62],
[8.4,9.1,.55,.55,.55,.55,.55,.56,.56,.58,.6,.6,.62],
[8.3,9.15,.55,.55,.55,0,.56,.56,.58,.58,.6,.6],
[8.2,9.1,.56,.55,.55,.56,.56,.56,0,.58,.6],
[8.1,9.15,.58,.58,.58,.58,.58,.6,.6,.6],
[8.0,9.2,.6,.6,.6,.6,.6,.6],
[7.9,9.15,.6,.6,.6,.6],
[7.8,9.1,.6,.6,.6,.6],
[7.7,9.15,.6,.6]
]
const dots12 = [[11.17,10.09,1.78],[10.54,9.9,1.72],[10.62,9.85,1.68],[10.74,9.88,1.65],[10.83,9.95,1.65],[10.89,9.98,1.68],[10.98,10,1.68],[10.99,9.9,1.6],[11.09,9.88,1.52],[11.18,9.85,1.48],[10.94,9.79,1.45],[10.84,9.83,1.55],[10.77,9.77,1.5],[10.25,9.71,1.6],[10.31,9.75,1.62],[10.38,9.75,1.62],[10.45,9.72,1.58],[10.56,9.74,1.55],[10.64,9.74,1.52],[10.69,9.75,1.5],[10.32,9.64,1.5],[10.22,9.57,1.42],[10.47,9.63,1.45],[10.62,9.65,1.42],[10.69,9.65,1.4],[10.77,9.65,1.35],[10.99,9.68,1.32],[11.06,9.65,1.28],[10.16,9.49,1.32],[10.09,9.45,1.3],[10.05,9.37,1.28],[10.57,9.54,1.32],[10.67,9.56,1.32],[10.82,9.58,1.28],[10.92,9.56,1.28],[10.11,9.35,1.22],[10.94,9.42,1.1],[11.3,9.55,1.18],[11.07,9.43,1.1],[11.09,9.35,1],[10.87,9.31,1.08],[10.74,9.22,1],[9.9,9.22,.98],[10.74,9.13,.97],[9.79,9.1,.85],[9.89,9.06,.85],[10.08,9.04,.88],[10.16,9.08,.9],[10.25,9.06,.92],[10.47,9.06,.88],[10.57,9.07,.9],[10.68,9.06,.88],[10.74,8.99,.8],[10.32,8.94,.75],[10.41,8.93,.75],[10.5,8.88,.72],[10.61,8.92,.75],[10.73,8.89,.75],[10.93,8.92,.72],[10.32,8.78,.68],[10.51,8.7,.68],[10.62,8.66,.68],[10.58,8.49,.66],[10.37,8.59,.66],[10.32,8.39,.63],[10.27,8.54,.62],[10.27,8.26,.6],[10.19,8.26,.6],[10.06,8.26,.6],[9.98,7.85,.58],[9.9,7.96,.58],[9.75,7.93,.58],[9.63,7.96,.58],[9.52,7.67,.6],[9.35,7.67,.6],[9.46,7.67,.6],[9.22,7.57,.58],[9.96,8.1,.58]]
const trend12 = [[9.91,9.21],[10.01,9.24],[10.08,9.31],[10.17,9.26],[10.25,9.38],[10.41,9.31],[10.57,9.4],[10.67,9.46],[10.83,9.5],[10.95,9.51],[11.11,9.4],[11.18,9.45],[11.28,9.55]]

const rows13 = [
[9.3,10.35,.95,.95,.95,.95,.95,.95],
[9.2,10.1,.82,.84,.86,.86,.88,.88,.88,.9,.88],
[9.2,9.9,.72,.74],
[9.1,10.55,.8,.82,.84],
[9.1,9.85,.68,.7,.72,.75,.76,.78,.8],
[9.0,10.6,.78,.8],
[9.0,9.8,.62,.64,.66,.68,.7,.72,.75,.76],
[8.9,9.55,.57,.57,.58,.6,.62,.66,.68,.7,.72,.74],
[8.8,9.4,.56,.56,.56,.58,.58,.6,0,.64,.66,.7,.72,.72],
[8.7,9.25,.56,.56,.56,.56,.58,.58,.58,.6,.62,0,.66,.66],
[8.6,9.1,.56,.56,.56,.56,.56,.56,.58,.58,.6,.6,.62,.64],
[8.5,9.15,.56,.56,.56,.56,.56,0,.56,.58,.58,.6,.62],
[8.4,9.1,.56,.56,.56,.56,.56,.56,.56,.56,.58,.58,.6,.6],
[8.3,9.15,.56,.56,.56,.56,0,.56,.56,.56,.58,.58],
[8.2,9.1,.56,.56,.56,.56,.56,.56,.56,.56,.56],
[8.1,9.15,.56,.56,.56,.56,.56,.56,0,.56],
[8.0,9.1,.56,.56,.56,.56,.56,.56,.56,.56],
[7.9,9.15,.57,.57,.57,.57,.57,.57],
[7.8,9.2,.58,.58,.58,.58]
]
const dots13 = [[11.27,10.06,1.55],[10.87,10.06,1.55],[10.94,10.04,1.52],[11.03,10.07,1.55],[11.12,10.06,1.55],[10.94,9.95,1.48],[10.64,9.95,1.42],[10.6,9.9,1.38],[10.55,9.83,1.3],[10.55,9.74,1.28],[10.79,9.88,1.38],[10.8,9.79,1.35],[10.91,9.83,1.4],[11.09,9.84,1.42],[10.95,9.77,1.35],[10.85,9.7,1.3],[10.93,9.7,1.35],[11.33,9.67,1.28],[11.06,9.65,1.18],[11.15,9.63,1.2],[11.23,9.48,1.15],[10.97,9.4,1.08],[11.02,9.24,1],[10.36,9.72,1.2],[10.32,9.67,1.15],[10.21,9.61,1.1],[10.41,9.61,1.12],[10.47,9.54,1.08],[10.58,9.52,1.05],[10.88,9.58,1.15],[10.74,9.52,1.12],[10.82,9.45,1.08],[10.67,9.38,1.05],[10.71,9.33,1.03],[10.82,9.29,1],[10.15,9.49,1.02],[10.38,9.4,1],[10.52,9.36,1],[10.02,9.38,.9],[10.12,9.35,.92],[10.73,9.18,.88],[10.88,9.15,.85],[10.93,9.04,.85],[10.8,9.04,.82],[10.7,9.04,.82],[10.45,8.95,.75],[10.74,8.92,.75],[10.74,8.76,.7],[10.69,8.6,.66],[10.55,8.76,.68],[10.55,8.67,.66],[10.39,8.58,.65],[10.3,8.53,.62],[10.26,8.4,.6],[10.09,8.31,.58],[10.08,8.14,.57],[10.21,8.1,.57],[9.97,8.01,.57],[9.88,7.96,.57],[9.7,7.81,.57],[9.64,7.89,.57],[9.58,7.8,.57],[9.92,9.27,.72],[9.82,9.15,.66],[9.21,7.7,.58],[9.42,7.65,.58],[9.27,7.51,.58],[9.2,7.46,.58],[9.12,7.6,.58]]
const trend13 = [[10.26,9.6],[10.35,9.58],[10.41,9.5],[10.51,9.54],[10.6,9.72],[10.63,9.56],[10.71,9.36],[10.8,9.49],[10.96,9.57],[11.04,9.67],[11.19,9.54]]

const rows14 = [
[9.3,10.05,.6,.62,.64,.66,.68],
[9.2,9.9,.58,.58,.6,.62,.64,.66,.68],
[9.1,9.75,.56,.56,.56,.58,0,.62,.64,.66,.66],
[9.0,9.7,.55,.55,.55,.56,.58,.6,.62,.64,.65],
[8.9,9.55,.55,.55,.55,.55,.55,0,.58,.6,.62,.62],
[8.8,9.4,.55,.55,.55,.55,.55,.55,.55,.56,.58,.6,.6,.6],
[8.7,9.25,.55,.55,.55,.55,.55,.55,0,.55,.56,.56,.58,.58],
[8.6,9.2,.56,.55,.55,.55,.55,.55,.55,.55,.55,.56,0,.58],
[8.5,9.15,.56,.56,.55,.55,.55,.55,.55,.55,.55,.56,.56],
[8.4,9.1,.56,.56,.56,.55,.55,.55,0,.55,.55,.56,.56],
[8.3,9.15,.56,.56,.56,.56,.55,.55,.55,.55,.56],
[8.2,9.1,.56,.56,.56,.56,.56,.56,.56,0,.56],
[8.1,9.15,.56,.56,.56,.56,.56,.56,.56],
[8.0,9.1,.56,.56,.56,.56,.56]
]
const dots14 = [[11.02,10.26,1.38],[11.26,10.23,1.3],[11.15,10.15,1.2],[10.92,10.16,1.2],[10.83,10.07,1.15],[10.97,10.04,1.15],[10.64,9.99,1.08],[11.1,9.93,1.08],[10.53,9.86,1.02],[10.88,9.8,1.02],[11.03,9.77,1.02],[11.06,9.74,1.02],[10.39,9.81,.98],[10.27,9.7,.95],[10.36,9.72,.95],[10.44,9.68,.93],[10.56,9.67,.95],[10.18,9.59,.85],[10.48,9.61,.9],[10.94,9.56,.92],[10.91,9.51,.88],[10.98,9.4,.88],[11.26,9.47,.88],[10.92,9.25,.82],[10.73,9.38,.85],[10.76,9.31,.82],[10.42,9.51,.82],[10.52,9.52,.85],[10.62,9.48,.85],[10.53,9.4,.82],[10.44,9.37,.78],[10.59,9.34,.8],[10.59,9.24,.75],[10.52,9.17,.72],[10.41,9.24,.72],[10.23,9.38,.72],[10.33,9.35,.72],[10.09,9.38,.66],[10.18,9.31,.7],[10.7,9.11,.66],[10.77,9.04,.67],[10.68,8.94,.66],[10.59,8.76,.6],[10.53,8.74,.6],[10.45,8.86,.6],[10.56,9.04,.66],[10.44,8.51,.56],[10.29,8.49,.56],[10.11,8.35,.56],[10.14,8.47,.56],[9.86,8.3,.56],[9.67,7.8,.58],[9.26,7.76,.58],[9.24,7.4,.58],[9.14,7.5,.58],[9.12,7.67,.58],[9.47,7.87,.58],[9.39,7.92,.58],[9.5,7.99,.58],[9.67,8.08,.58],[9.74,8.17,.58],[9.15,7.89,.58],[9.26,7.96,.58],[9.36,8.03,.58],[9.52,9.02,.58]]
const trend14 = [[10.51,9.86],[10.66,9.99],[10.75,10.04],[10.86,9.85],[10.9,10.07],[11.05,10.06],[11.14,10.07],[11.29,10.24],[11.32,10.11],[11.4,9.93]]

const rows21 = [
[9.6,10.4,1.78,1.78,1.75,1.75,1.72,1.68],
[9.5,10.25,1.75,1.7,1.62,1.6,1.58,1.55,1.55,1.52,1.52],
[9.4,10.1,1.68,1.62,1.6,1.52,1.5,1.5,1.45,1.42,1.42,1.4],
[9.3,10.05,1.55,1.5,1.42,1.42,1.38,1.35,0,0,1.32,1.3],
[9.2,9.8,1.52,1.5,1.42,1.4,1.35,1.3,1.3,1.28,0,0,1.2],
[9.1,9.65,1.42,1.4,1.35,1.3,1.25,1.22,1.2,1.2,1.15,1.12],
[9.0,9.6,1.3,1.25,1.2,1.18,1.15,1.12,1.1,1.08,1.05],
[8.9,9.45,1.25,1.2,1.15,1.12,1.1,1.08,1.05,1.05,1.02,1,.98],
[8.8,9.4,1.18,1.12,1.08,1.05,1.02,1,.98,.98,.96,.94,.9],
[8.7,9.25,1.15,1.1,1.05,1.02,1,.98,.94,.9,.88,.86,.82,.8],
[8.6,9.1,1.02,.95,.95,.95,.92,.88,.85,.82,.8,.78],
[8.5,9.15,.9,.88,.85,.82,.82,.8,.78,.75,.72,.72,.7],
[8.4,9.1,.85,.82,.8,.78,.76,.75,.72,.7,0,.68,.68,.68],
[8.3,9.15,.76,.75,.72,.72,.7,0,.68,.68,.68,.66],
[8.2,9.1,.72,.7,.7,.68,.68,.68,.66,.66,0,.66,.66],
[8.1,9.15,.7,.68,0,.66,.66,.66,.66,.66,.66],
[8.0,9.1,.68,.66,.66,.66,.66,0,.65,.65,.65],
[7.9,9.15,.64,.64,.64,.65,.65,.65],
[7.8,9.1,.62,.62,.64,.64,.64],
[7.7,9.15,.62,.62,.62,.62],
[7.6,9.1,.62,.62,0,.62]
]
const dots21 = [[10.83,9.98,2],[11.37,10.01,1.98],[10.98,9.9,1.92],[11.11,9.81,1.85],[10.91,9.84,1.82],[10.79,9.77,1.82],[10.48,9.72,1.88],[10.61,9.68,1.8],[10.7,9.7,1.8],[10.88,9.7,1.75],[11,9.68,1.65],[10.36,9.56,1.78],[10.27,9.54,1.75],[10.14,9.45,1.72],[10.03,9.32,1.68],[11.03,9.56,1.52],[11.06,9.45,1.45],[9.89,9.24,1.62],[9.75,9.2,1.65],[9.67,9.13,1.6],[10.98,9.32,1.28],[10.89,9.31,1.32],[10.56,9.2,1.2],[10.71,9.2,1.22],[10.8,9.05,1.1],[10.83,8.94,.98],[10.64,8.88,.98],[10.55,8.91,1],[10.61,8.97,1.02],[10.52,9,1.1],[9.36,8.7,1.2],[9.27,8.66,1.2],[9.18,8.56,1.12],[10.45,8.81,.9],[10.27,8.67,.8],[10.38,8.65,.75],[10.47,8.65,.72],[10.58,8.63,.7],[10.55,8.54,.68],[10.42,8.48,.68],[10.32,8.38,.66],[10.23,8.49,.72],[10.09,8.31,.68],[10.06,8.17,.66],[9.95,8.02,.65],[9.97,7.85,.65],[9.8,7.92,.67],[9.7,7.97,.66],[9.68,7.81,.66],[9.64,7.74,.66],[9.58,7.88,.66],[9.42,7.56,.62],[9.45,7.44,.62],[9.39,7.4,.62],[9.23,7.51,.62],[9.14,7.42,.62]]
const trend21 = [[9.1,8.47],[9.2,8.5],[9.29,8.61],[9.45,8.67],[9.56,8.66],[9.67,8.81],[9.76,8.81],[9.81,8.88],[9.9,8.9],[10,8.94],[10.09,9],[10.17,9],[10.26,9.02],[10.43,9.1],[10.53,9.04],[10.62,9.22],[10.74,9.16],[10.86,9.17]]

const rows22 = [
[9.3,10.45,1.05,1.05,1.05,1.05],
[9.2,10.3,1,1,.98,.98,.98],
[9.1,10.15,.92,.92,.92,.9,.9,.9,.88,.88],
[9.0,9.9,.82,.82,.82,.8,.8,.8,.8,.8,.8],
[8.9,10.25,.76,.76,.76,.76,.74],
[8.9,9.55,.68,.7,.72,.74,.74,.76],
[8.8,9.4,.62,.64,.66,.68,.7,0,.72,.74,.74],
[8.7,9.25,.6,.6,.62,.62,.64,.66,.68,.7,0,.72,.72],
[8.6,9.1,.56,.56,.58,.58,.6,.62,.62,.64,.66,.66,.68,.7],
[8.5,9.15,.55,.56,.58,.58,.6,0,.62,.64,.64,.66],
[8.4,9.1,.55,.55,.56,.58,.58,.58,.6,.62,0,.64,.65],
[8.3,9.15,.56,.56,.56,.58,.58,.6,.6,.62,.62,.64],
[8.2,9.1,.58,.58,.58,.58,0,.6,.6,.62,.62],
[8.1,9.15,.58,.58,.58,.6,.6,.6,.62,.62],
[8.0,9.1,.6,.6,.6,.6,.6,.6,.62],
[7.9,9.15,.6,.6,.6,.6,.6],
[7.8,9.1,.6,.6,.6,.6],
[7.7,9.15,.6,.6]
]
const dots22 = [[10.92,10.09,1.88],[10.94,10,1.8],[10.89,10,1.8],[10.95,9.91,1.72],[10.64,9.98,1.88],[10.68,10,1.88],[10.76,9.88,1.7],[11.27,10.12,1.65],[11.2,10.04,1.62],[11.27,9.95,1.55],[11.39,9.95,1.52],[11.09,9.8,1.48],[10.5,9.82,1.62],[10.58,9.8,1.6],[10.68,9.81,1.55],[10.88,9.77,1.48],[10.88,9.86,1.6],[10.47,9.66,1.45],[10.6,9.72,1.48],[10.76,9.68,1.3],[10.85,9.68,1.35],[10.95,9.68,1.28],[10.21,9.56,1.42],[10.39,9.59,1.3],[10.52,9.56,1.28],[10.59,9.56,1.25],[10.17,9.42,1.28],[10.32,9.48,1.22],[10.39,9.45,1.22],[10.55,9.48,1.22],[10.67,9.52,1.2],[10.85,9.56,1.2],[10.95,9.57,1.2],[10.08,9.34,1.18],[9.94,9.29,1.15],[10.23,9.34,1.12],[10.73,9.43,1.1],[10.85,9.39,1.08],[10.92,9.39,1.05],[11.11,9.64,1.15],[11.15,9.63,1.12],[9.83,9.18,1.1],[9.89,9.11,1.02],[10.09,9.18,1.05],[10.36,9.22,1.08],[10.55,9.29,1.05],[10.64,9.27,1.03],[10.74,9.27,.98],[10.97,9.28,.88],[10.85,9.16,.82],[10.79,9.12,.82],[10.7,9.13,.87],[10.61,9.2,.98],[10.64,8.9,.7],[9.7,9.04,.68],[9.5,8.88,.66],[9.79,8.95,.72],[9.3,8.7,.6],[10.52,8.77,.72],[10.39,8.72,.68],[10.47,8.61,.66],[10.55,8.59,.66],[10.63,8.59,.66],[10.38,8.61,.66],[10.27,8.63,.66],[10.3,8.43,.64],[10.24,8.29,.64],[10.14,8.26,.62],[10.03,8.13,.62],[9.94,8.15,.62],[9.84,8.04,.62],[9.74,8.01,.62],[9.67,7.9,.62],[9.55,7.85,.6],[9.48,7.7,.6],[9.36,7.76,.6],[9.27,7.74,.6],[9.27,7.48,.6],[9.23,7.62,.6],[9.17,7.38,.6]]
const trend22 = [[9.82,9.18],[9.98,9.24],[10.08,9.27],[10.25,9.31],[10.35,9.34],[10.52,9.4],[10.67,9.4],[10.76,9.5],[10.85,9.48],[10.99,9.62],[11.07,9.66],[11.2,9.63]]

const rows23 = [
[9.8,10.5,1.3,1.32,1.32,1.3,1.3],
[9.3,10.4,.9,.9,.92],
[9.2,10.1,.78,.78,.8,.8,.8,.85,.85],
[9.2,9.8,.62,.65,.7],
[9.1,9.75,.6,.62,.65,.68,.7,.72,.72,.74,.76],
[9.0,9.6,.58,.58,.6,.6,.62,.65,.68,.7,.72],
[8.9,9.55,.56,.56,.58,.58,.6,0,.62,.65,.68,.7],
[8.8,9.4,.55,.55,.55,.55,.56,.58,.58,.6,0,.64,.64],
[8.7,9.25,.55,.55,.55,.55,.55,.55,.56,.58,.6,.6,.62],
[8.6,9.1,.55,.55,.55,.55,.55,.55,.55,0,.56,.58,.58,.6],
[8.5,9.15,.55,.55,.55,.55,.55,.55,.55,.55,.56,.58,.58],
[8.4,9.1,.55,.55,.55,.55,.55,0,.55,.55,.55,.56,.58],
[8.3,9.15,.55,.55,.55,.55,.55,.55,.55,.55,.56],
[8.2,9.1,.55,.55,.55,.55,.55,.55,0,.55,.56],
[8.1,9.15,.55,.55,.55,.55,.55,.55,.55],
[8.0,9.1,.56,.56,.55,.55,.55,.55],
[7.9,9.15,.56,.56,.56,.56,.56,.56],
[7.8,9.2,.56,.56,.56,.56,.56]
]
const dots23 = [[10.98,10.28,1.75],[11.04,10.18,1.65],[10.95,10.1,1.58],[10.87,10.06,1.55],[11.2,10.05,1.45],[11.24,9.93,1.28],[11.17,9.89,1.3],[10.69,10.01,1.48],[10.82,9.96,1.42],[10.98,9.98,1.42],[11.06,9.98,1.4],[10.94,9.89,1.32],[11.03,9.86,1.3],[11.36,9.88,1.15],[11.36,9.7,1.1],[10.97,9.77,1.18],[10.88,9.7,1.15],[10.41,9.75,1.25],[10.29,9.69,1.18],[11.11,9.67,1.18],[10.79,9.68,1.22],[10.26,9.54,1.05],[10.17,9.5,1.05],[10.36,9.52,1.08],[10.61,9.57,1.12],[10.71,9.54,1.1],[11.03,9.59,1.18],[11.15,9.45,1.08],[11.03,9.48,1.1],[10.82,9.54,1.1],[10.94,9.48,1.08],[10.42,9.47,1.05],[10.24,9.41,.95],[10.09,9.31,.85],[10.2,9.31,.88],[10.36,9.38,.98],[10.42,9.41,1.02],[10.55,9.34,.95],[10.61,9.27,.9],[10.68,9.32,1.02],[10.71,9.38,1.05],[10.88,9.43,1.05],[11.03,9.38,1.03],[10.94,9.29,.98],[10.76,9.43,1.05],[10.39,9.29,.9],[10.47,9.25,.88],[10.56,9.25,.88],[10.48,9.2,.82],[9.99,9.31,.78],[10.36,9.11,.75],[10.47,9.02,.75],[10.8,9.15,.8],[10.87,9.07,.78],[10.67,9.02,.8],[10.79,9.07,.76],[11.08,9.07,.78],[10.78,8.84,.66],[10.61,8.74,.64],[10.82,8.67,.62],[10.55,8.91,.72],[10.5,8.81,.65],[10.52,8.33,.6],[10.44,8.4,.6],[10.29,8.34,.58],[10.48,8.56,.6],[10.36,8.47,.6],[10.21,8.49,.6],[10.24,8.65,.6],[10.08,7.97,.54],[9.97,8.13,.56],[9.79,7.94,.56],[9.79,8.11,.56],[10.06,8.27,.57],[9.64,7.74,.55],[9.58,7.78,.55],[9.24,7.58,.57],[9.15,7.48,.57],[9.11,7.3,.57],[9.17,7.7,.57],[9.26,7.74,.57],[9.36,7.81,.57],[9.45,7.85,.57]]
const trend23 = [[10.17,9.49],[10.23,9.59],[10.32,9.6],[10.41,9.52],[10.55,9.66],[10.65,9.7],[10.79,9.57],[10.86,9.56],[10.95,9.63],[11.09,9.56],[11.23,9.38],[11.3,9.53],[11.39,9.7]]

const rows24 = [
[9.1,9.75,.56,.58,.58,.6,.6,.62],
[9.0,9.7,.55,.55,.56,.56,0,.6,.62,.64],
[8.9,9.45,.56,.55,.55,.55,.55,.56,.58,.6,.62,.64,.65],
[8.8,9.4,.56,.55,.55,.55,.55,.55,0,.56,.58,.6,.62],
[8.7,9.25,.56,.56,.56,.55,.55,.55,.55,.55,.55,.56,.58],
[8.6,9.2,.56,.56,.56,.55,.55,0,.55,.55,.55,.56,.56],
[8.5,9.15,.56,.56,.56,.56,.55,.55,.55,.55,0,.56,.56],
[8.4,9.1,.56,.56,.56,.56,.56,.55,.55,.55,.56,.56],
[8.3,9.15,.56,.56,.56,.56,.56,.56,0,.56,.56],
[8.2,9.1,.57,.57,.56,.56,.56,.56,.56,.56],
[8.1,9.15,.57,.57,.57,.57,.57,.57],
[8.0,9.2,.57,.57,.57,.57,.57],
[7.9,9.15,.57,.57,.57,.57,.57]
]
const dots24 = [[10.95,10.2,1.38],[11.05,10.16,1.3],[11.09,10.09,1.3],[11.03,10.07,1.28],[10.73,10.02,1.28],[10.89,10.01,1.22],[11.05,9.98,1.22],[10.71,9.96,1.25],[11.12,9.8,1.12],[10.71,9.86,1.18],[10.79,9.89,1.15],[11.36,9.88,1.18],[10.56,9.88,1.18],[10.37,9.82,1.2],[10.52,9.75,1.08],[10.48,9.81,1.1],[10.83,9.79,1.1],[10.91,9.77,1.08],[10.98,9.75,1.08],[10.7,9.77,1.1],[10.77,9.7,1.08],[11.15,9.65,1],[11.14,9.57,1],[11,9.61,1],[10.91,9.64,1],[10.83,9.59,.97],[10.88,9.5,.95],[10.54,9.63,1],[10.14,9.58,1.02],[10.11,9.49,.98],[10.26,9.55,1],[10.44,9.54,.93],[10.38,9.52,.92],[10.58,9.48,.93],[10.67,9.59,.98],[10.68,9.5,.9],[10.76,9.52,.9],[10.35,9.41,.82],[10.44,9.39,.85],[10.53,9.36,.85],[10.7,9.38,.83],[10.77,9.41,.82],[10.92,9.39,.85],[10.88,9.36,.85],[10.71,9.31,.82],[10.61,9.26,.75],[10.36,9.29,.72],[10.09,9.31,.68],[10.2,9.2,.65],[10.44,9.13,.68],[10.52,9.15,.7],[10.6,9.13,.68],[10.79,9.16,.72],[10.7,9.02,.7],[10.8,9.11,.72],[10.57,8.91,.66],[10.74,8.81,.66],[10.68,8.77,.66],[10.6,8.74,.65],[10.42,8.74,.6],[10.52,8.59,.6],[10.64,8.57,.6],[10.78,8.38,.67],[10.2,8.38,.57],[10.26,8.54,.57],[10,8.34,.56],[9.85,8.29,.56],[10.09,8.42,.56],[9.33,7.72,.58],[9.47,7.81,.58],[9.14,7.78,.58],[9.24,7.86,.58],[9.52,8.06,.58],[9.42,7.9,.58]]
const trend24 = [[10.42,9.81],[10.52,9.79],[10.59,9.88],[10.67,9.79],[10.83,9.84],[10.94,9.91],[11.05,9.82],[11.1,9.98],[11.36,9.88]]

const allRows = [[rows00, rows01, rows02, rows03, rows04], [rows10, rows11, rows12, rows13, rows14], [rows20, rows21, rows22, rows23, rows24]]
const allDots = [[dots00, dots01, dots02, dots03, dots04], [dots10, dots11, dots12, dots13, dots14], [dots20, dots21, dots22, dots23, dots24]]
const allTrends = [[trend00, trend01, trend02, trend03, trend04], [trend10, trend11, trend12, trend13, trend14], [trend20, trend21, trend22, trend23, trend24]]

// Dimensiones
const left = 250, top0 = 144, panelW = 310, panelH = 308

const svg = d3.select("#grafica").append("svg")
  .attr("width", 2000).attr("height", 1200)
  .style("display", "block")
const defs = svg.append("defs")

// softens the steps between rows in the three very dense panels
defs.append("filter").attr("id", "soft")
  .append("feGaussianBlur").attr("stdDeviation", 1.7)

// jet colormap, same anchors as matplotlib
const jetR = d3.scaleLinear([0, .35, .66, .89, 1], [0, 0, 1, 1, .5]).clamp(true)
const jetG = d3.scaleLinear([0, .125, .375, .64, .91, 1], [0, 0, 1, 1, 0, 0]).clamp(true)
const jetB = d3.scaleLinear([0, .11, .34, .65, 1], [.5, 1, 1, 0, 0]).clamp(true)
const uvNorm = d3.scaleLinear([.5, 2], [0, 1]).clamp(true)
const jet = (uv) => {
  const t = uvNorm(uv)
  return d3.rgb(jetR(t) * 255, jetG(t) * 255, jetB(t) * 255).formatHex()
}

const x = d3.scaleLinear().domain(xRange).range([0, panelW])
const y = d3.scaleLinear().domain(yRange).range([panelH, 0])

// writes pieces of text with a size and a baseline shift each
const writeParts = (node, parts, size) => {
  let shift = 0
  parts.forEach((p) => {
    const s = p.shift || 0
    const t = node.append("tspan").text(p.t)
      .attr("dy", s - shift)
      .attr("font-size", p.size || size)
    if (p.italic) t.attr("font-style", "italic")
    shift = s
  })
}

const drawAxes = (g, r, c) => {
  const tickGroups = [
    [d3.axisBottom(x).tickValues(xMajor).tickSize(-7), `translate(0,${panelH})`],
    [d3.axisBottom(x).tickValues(xMinor).tickSize(-3.5), `translate(0,${panelH})`],
    [d3.axisTop(x).tickValues(xMajor).tickSize(-7), "translate(0,0)"],
    [d3.axisTop(x).tickValues(xMinor).tickSize(-3.5), "translate(0,0)"],
    [d3.axisLeft(y).tickValues(yMajor).tickSize(-7), "translate(0,0)"],
    [d3.axisLeft(y).tickValues(yMinor).tickSize(-3.5), "translate(0,0)"],
    [d3.axisRight(y).tickValues(yMajor).tickSize(-7), `translate(${panelW},0)`],
    [d3.axisRight(y).tickValues(yMinor).tickSize(-3.5), `translate(${panelW},0)`]
  ]
  tickGroups.forEach(([axis, tr]) => {
    const a = g.append("g").attr("transform", tr).call(axis.tickFormat(""))
    a.select(".domain").remove()
    a.selectAll("line").attr("stroke", "#000").attr("stroke-width", 1.5)
  })
  g.append("rect").attr("width", panelW).attr("height", panelH)
    .attr("fill", "none").attr("stroke", "#000").attr("stroke-width", 1.5)

  if (r === 2) {
    xMajor.forEach((v) => {
      g.append("text").attr("x", x(v)).attr("y", panelH + 17)
        .attr("text-anchor", "middle").attr("font-size", 13.3).text(v.toFixed(1))
    })
    const lab = g.append("text").attr("x", panelW / 2).attr("y", panelH + 43)
      .attr("text-anchor", "middle")
    writeParts(lab, [{t: "log(M"}, {t: "\u22C6", size: 15.5, shift: 3}, {t: "/M"}, {t: "\u2299", size: 15, shift: 3}, {t: ")"}], 20.8)
  }
  if (c === 0) {
    yMajor.forEach((v) => {
      g.append("text").attr("x", -6).attr("y", y(v) + 5)
        .attr("text-anchor", "end").attr("font-size", 13.3).text(v.toFixed(1))
    })
    const lab = g.append("text")
      .attr("transform", `translate(-52,${panelH / 2}) rotate(-90)`)
      .attr("text-anchor", "middle")
    writeParts(lab, [{t: "log(\u03A3"}, {t: "1 kpc", size: 15, shift: 3}, {t: " / M"}, {t: "\u2299", size: 15, shift: 3}, {t: " kpc"}, {t: "\u22122", size: 15, shift: -8}, {t: ")"}], 21)
  }
}

massBins.forEach((label, r) => {
  zBins.forEach((bin, c) => {
    const g = svg.append("g").attr("transform", `translate(${left + c * panelW},${top0 + r * panelH})`)
    const clipId = `clip${r}${c}`
    g.append("clipPath").attr("id", clipId).append("rect").attr("width", panelW).attr("height", panelH)

    if (c === 0) {
      g.append("text").attr("x", 13).attr("y", 38).attr("font-size", 20.5).text(label)
    }

    // cloud cells and single galaxies: black underlay first, colours on top
    const cells = []
    allRows[r][c].forEach((row) => {
      row.slice(2).forEach((uv, i) => {
        cells.push({x: row[1] + i * 0.1, y: row[0], uv})
      })
    })
    const dots = allDots[r][c].map((d) => ({x: d[0], y: d[1], uv: d[2]}))
    const marks = g.append("g").attr("clip-path", `url(#${clipId})`)

    marks.append("g").selectAll("circle").data(cells).join("circle")
      .attr("cx", (d) => x(d.x)).attr("cy", (d) => y(d.y)).attr("r", 9.2).attr("fill", "#000")
    marks.append("g").selectAll("circle").data(dots).join("circle")
      .attr("cx", (d) => x(d.x)).attr("cy", (d) => y(d.y)).attr("r", 8.6).attr("fill", "#000")
    const colours = marks.append("g")
    if (c === 0) colours.attr("filter", "url(#soft)")
    colours.selectAll("circle").data(cells.filter((d) => d.uv > 0)).join("circle")
      .attr("cx", (d) => x(d.x)).attr("cy", (d) => y(d.y)).attr("r", 7.3).attr("fill", (d) => jet(d.uv))
    marks.append("g").selectAll("circle").data(dots).join("circle")
      .attr("cx", (d) => x(d.x)).attr("cy", (d) => y(d.y)).attr("r", 6.5).attr("fill", (d) => jet(d.uv))

    const line = d3.line().x((d) => x(d[0])).y((d) => y(d[1]))
    marks.append("path").datum(allTrends[r][c]).attr("d", line)
      .attr("fill", "none").attr("stroke", "#b40cb4").attr("stroke-width", 7)
      .attr("stroke-dasharray", "25,10")

    if (massLimit[c]) {
      g.append("rect").attr("x", 0).attr("y", 0)
        .attr("width", x(massLimit[c])).attr("height", panelH)
        .attr("fill", "#808080").attr("fill-opacity", 0.5)
    }

    drawAxes(g, r, c)

    if (r === 0) {
      const t = g.append("text").attr("x", panelW / 2).attr("y", -8).attr("text-anchor", "middle")
      writeParts(t, [{t: `${bin[0]} < `}, {t: "z", italic: true}, {t: ` < ${bin[1]}`}], 20.8)
    }
  })
})

// colour bar inside the top right panel
const barX = d3.scaleLinear().domain([0.5, 2]).range([1560, 1761])
const grad = defs.append("linearGradient").attr("id", "jetBar")
d3.range(0, 1.001, 0.01).forEach((t) => {
  grad.append("stop").attr("offset", t).attr("stop-color", jet(0.5 + t * 1.5))
})
svg.append("rect").attr("x", barX(0.5)).attr("y", 384)
  .attr("width", barX(2) - barX(0.5)).attr("height", 12)
  .attr("fill", "url(#jetBar)").attr("stroke", "#000").attr("stroke-width", 1.6)
barTicks.forEach((v) => {
  svg.append("text").attr("x", barX(v)).attr("y", 417)
    .attr("text-anchor", "middle").attr("font-size", 13).text(v.toFixed(1))
})
const barLabel = svg.append("text").attr("x", 1660).attr("y", 438).attr("text-anchor", "middle")
writeParts(barLabel, [{t: "(U - V)"}, {t: "cor", size: 10, shift: 2, italic: true}], 13.3)
</script>
</body>
</html>
